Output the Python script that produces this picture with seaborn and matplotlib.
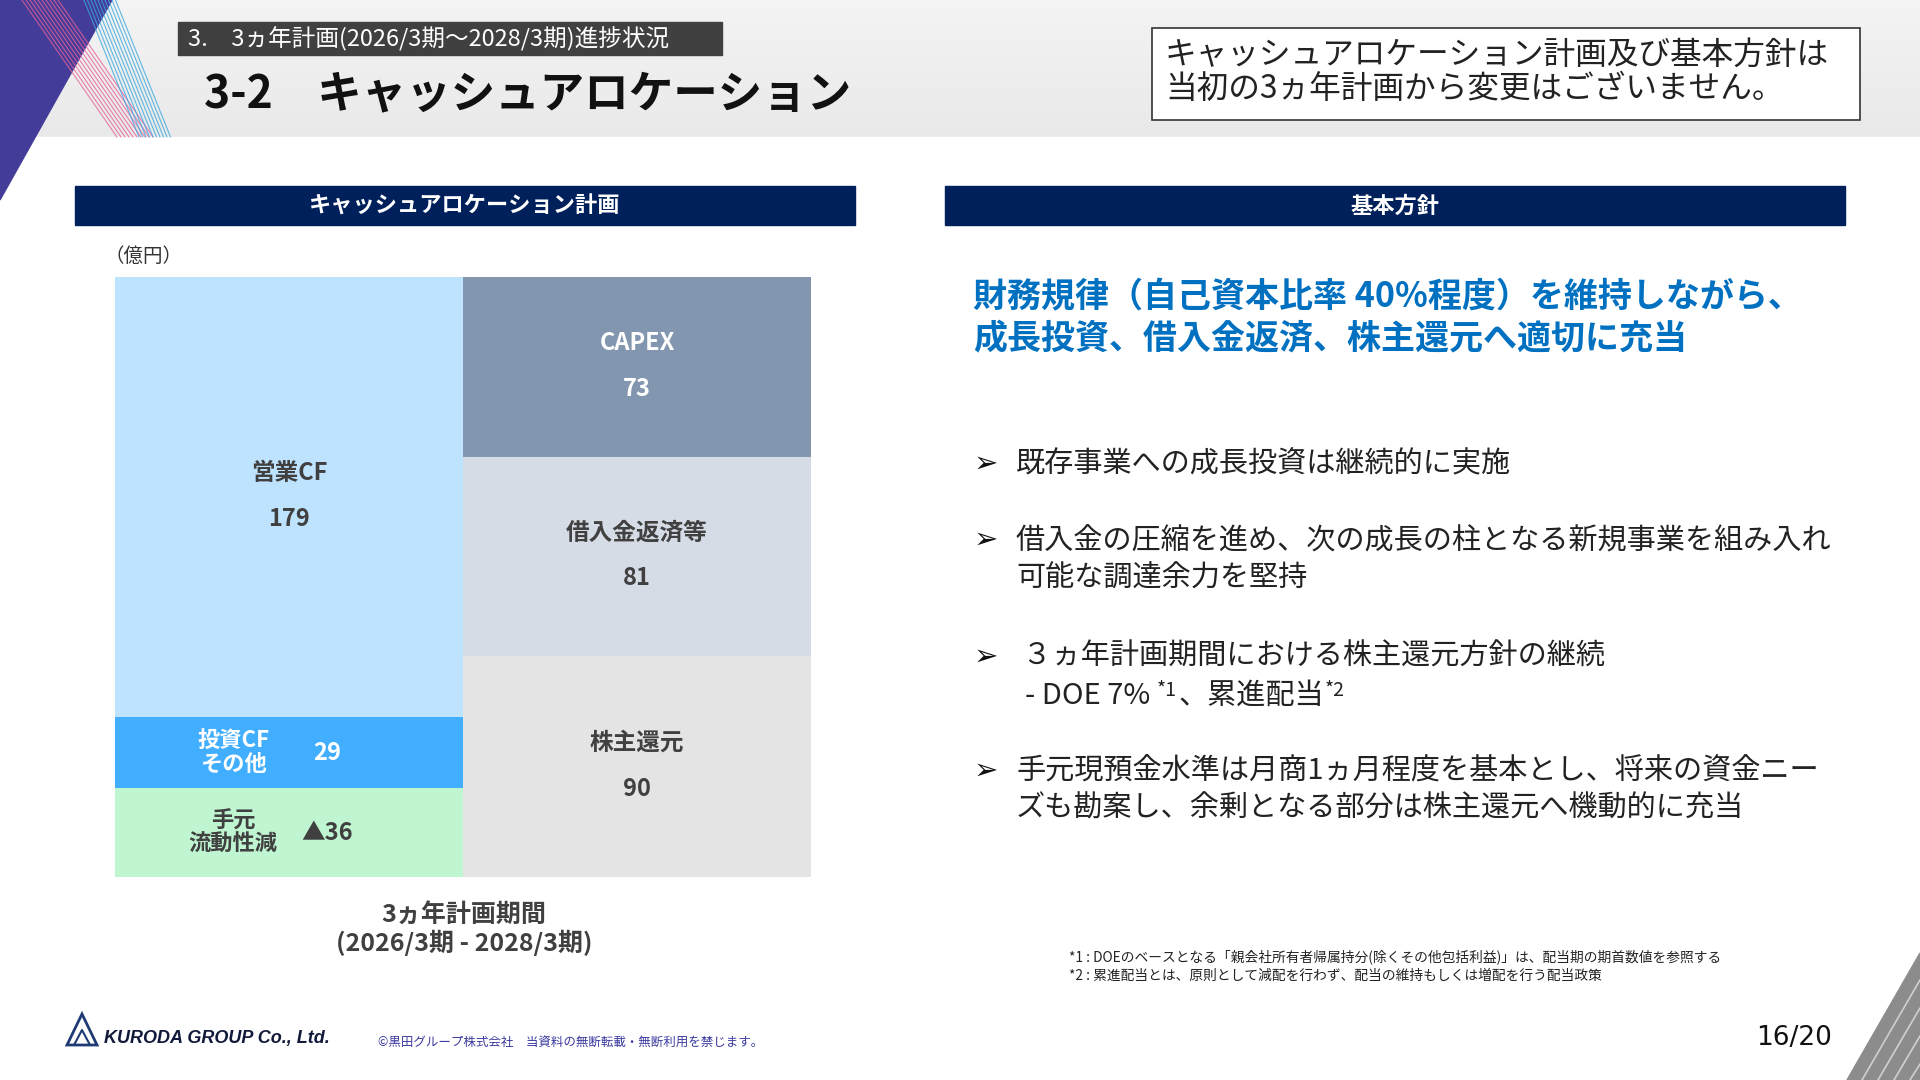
import numpy as np
import pandas as pd
import matplotlib.pyplot as plt
import seaborn as sns
from matplotlib.patches import Polygon, Rectangle

# データ（億円）
periods = ["資金源", "資金使途"]
source_labels = ["手元\n流動性減", "投資CF\nその他", "営業CF"]
source_values = [36, 29, 179]
source_texts = ["▲36", "29", "179"]
use_labels = ["株主還元", "借入金返済等", "CAPEX"]
use_values = [90, 81, 73]
use_texts = ["90", "81", "73"]
source_colors = ["#BFF5D1", "#42AEFF", "#BEE3FE"]
use_colors = ["#E4E4E4", "#D6DCE5", "#8396AF"]

bullets = [
    "既存事業への成長投資は継続的に実施",
    "借入金の圧縮を進め、次の成長の柱となる新規事業を組み入れ\n可能な調達余力を堅持",
    " ３ヵ年計画期間における株主還元方針の継続",
    "手元現預金水準は月商1ヵ月程度を基本とし、将来の資金ニー\nズも勘案し、余剰となる部分は株主還元へ機動的に充当",
]
doe_parts = [("- DOE 7% ", False), ("*1", True), ("、累進配当", False), ("*2", True)]
footnotes = [
    "*1 : DOEのベースとなる「親会社所有者帰属持分(除くその他包括利益)」は、配当期の期首数値を参照する",
    "*2 : 累進配当とは、原則として減配を行わず、配当の維持もしくは増配を行う配当政策",
]

sns.set_theme(style="white")
plt.rcParams['font.family'] = ['Noto Sans CJK JP', 'DejaVu Sans']

W, H = 1920, 1080
def fx(x):
    return x / W
def fy(y):
    return 1 - y / H

fig = plt.figure(figsize=(19.2, 10.8), dpi=100)

# 背景
bg = fig.add_axes([0, 0, 1, 1], zorder=-5)
bg.axis('off')
grad = np.linspace(0, 1, 256).reshape(-1, 1)
bg.imshow(grad, extent=[0, W, 137, 0], cmap=plt.matplotlib.colors.LinearSegmentedColormap.from_list(
    'hd', ['#F4F4F4', '#E9E9E9']), aspect='auto')
bg.add_patch(Rectangle((0, 137), W, H - 137, color='white'))
bg.add_patch(Polygon([(0, 0), (112, 0), (0, 200)], color='#433C98'))
for i in range(10):
    x0 = 22 + i * 4
    bg.plot([x0, x0 + 95], [0, 137], color='#E8609A', lw=0.8, alpha=0.8)
for i in range(10):
    x0 = 84 + i * 3.5
    bg.plot([x0, x0 + 55], [0, 137], color='#3AA8E0', lw=0.8, alpha=0.8)
bg.add_patch(Polygon([(1847, 1080), (1920, 953), (1920, 1080)], color='#8C8C8C'))
for i in range(4):
    bg.plot([1862 + i * 16, 1920], [1080, 980 + i * 28], color='#D0D0D0', lw=1.2)
bg.set_xlim(0, W)
bg.set_ylim(H, 0)

# ヘッダー
bg.add_patch(Rectangle((178, 22), 544, 33, color='#404040'))
fig.text(fx(188), fy(39), "3.　3ヵ年計画(2026/3期～2028/3期)進捗状況", color='white',
         fontsize=17, va='center')
fig.text(fx(204), fy(94), "3-2　キャッシュアロケーション", color='#111111',
         fontsize=32, fontweight='bold', va='center')
bg.add_patch(Rectangle((1152, 28), 708, 92, facecolor='white', edgecolor='#333333', lw=1.2))
fig.text(fx(1165), fy(72), "キャッシュアロケーション計画及び基本方針は\n当初の3ヵ年計画から変更はございません。",
         fontsize=22.8, va='center', color='#222222', linespacing=1.1)

# 見出し帯
for x0, x1, t in [(75, 855, "キャッシュアロケーション計画"), (945, 1845, "基本方針")]:
    bg.add_patch(Rectangle((x0, 186), x1 - x0, 39, color='#00205B'))
    fig.text(fx((x0 + x1) / 2), fy(206), t, color='white', fontsize=16,
             fontweight='bold', ha='center', va='center')

fig.text(fx(104), fy(256), "（億円）", fontsize=14, va='center', color='#333333')

# 積み上げ棒グラフ
ax = fig.add_axes([fx(115), fy(877), (811 - 115) / W, 600 / H])
src_cum = np.cumsum(source_values)
use_cum = np.cumsum(use_values)
for i in reversed(range(3)):
    df = pd.DataFrame({'period': periods, 'value': [src_cum[i], use_cum[i]]})
    sns.barplot(data=df, x='period', y='value', hue='period',
                palette=[source_colors[i], use_colors[i]], width=1,
                saturation=1, legend=False, ax=ax, linewidth=0)
ax.set_xlim(-0.5, 1.5)
ax.set_ylim(0, src_cum[-1])
ax.axis('off')

dark = '#404040'
# 右の棒
for i in range(3):
    mid = use_cum[i] - use_values[i] / 2
    col = 'white' if i == 2 else dark
    ax.annotate(use_labels[i], (1, mid), xytext=(0, 17), textcoords='offset points',
                ha='center', va='center', fontsize=17, fontweight='bold', color=col)
    ax.annotate(use_texts[i], (1, mid), xytext=(0, -16), textcoords='offset points',
                ha='center', va='center', fontsize=17, fontweight='bold', color=col)
# 左の棒
mid = src_cum[2] - source_values[2] / 2
ax.annotate(source_labels[2], (0, mid), xytext=(0, 17), textcoords='offset points',
            ha='center', va='center', fontsize=17, fontweight='bold', color=dark)
ax.annotate(source_texts[2], (0, mid), xytext=(0, -16), textcoords='offset points',
            ha='center', va='center', fontsize=17, fontweight='bold', color=dark)
for i, col in [(0, dark), (1, 'white')]:
    mid = src_cum[i] - source_values[i] / 2
    ax.text(-0.16, mid, source_labels[i], ha='center', va='center', fontsize=16,
            fontweight='bold', color=col, linespacing=1.05)
    ax.text(0.11, mid, source_texts[i], ha='center', va='center', fontsize=17,
            fontweight='bold', color=col)

fig.text(fx(464), fy(930), "3ヵ年計画期間\n(2026/3期 - 2028/3期)", ha='center', va='center',
         fontsize=18, fontweight='bold', color=dark, linespacing=1.1)

# 基本方針
fig.text(fx(973), fy(318), "財務規律（自己資本比率 40%程度）を維持しながら、\n成長投資、借入金返済、株主還元へ適切に充当",
         fontsize=24.5, fontweight='bold', color='#0070C0', va='center', linespacing=1.25)
bullet_y = [(464, 464), (540, 560), (657, 657), (771, 790)]
for (yb, yt), t in zip(bullet_y, bullets):
    fig.text(fx(974), fy(yb), "➢", fontsize=21, va='center',
             color='#111111', family=['DejaVu Sans'])
    fig.text(fx(1016), fy(yt), t, fontsize=21, va='center', color='#222222',
             linespacing=1.3)

# DOE 行（上付き文字つき）
renderer = fig.canvas.get_renderer()
x = 1025
for part, sup in doe_parts:
    t = fig.text(fx(x), fy(690 if sup else 696), part, fontsize=14 if sup else 21,
                 va='center', color='#222222')
    bb = t.get_window_extent(renderer)
    x += bb.width + (2 if sup else 0)

fig.text(fx(1069), fy(957), footnotes[0], fontsize=9.9, va='center', color='#222222')
fig.text(fx(1069), fy(976), footnotes[1], fontsize=9.9, va='center', color='#222222')

# フッター
bg.add_patch(Polygon([(67, 1045), (82, 1014), (97, 1045)], closed=True,
                     facecolor='none', edgecolor='#1F3B73', lw=2))
bg.plot([74, 82, 90], [1045, 1030, 1045], color='#1F3B73', lw=1.5)
fig.text(fx(104), fy(1039), "KURODA GROUP Co., Ltd.", fontsize=13, fontweight='bold',
         style='italic', family=['Liberation Sans'], color='#111A3A', va='center')
fig.text(fx(378), fy(1042), "©黒田グループ株式会社　当資料の無断転載・無断利用を禁じます。",
         fontsize=9, color='#3A3AA0', va='center')
fig.text(fx(1794), fy(1038), "16/20", fontsize=19, ha='center', va='center',
         color='#111111', family=['DejaVu Sans'])

plt.savefig('out.png', dpi=100)
